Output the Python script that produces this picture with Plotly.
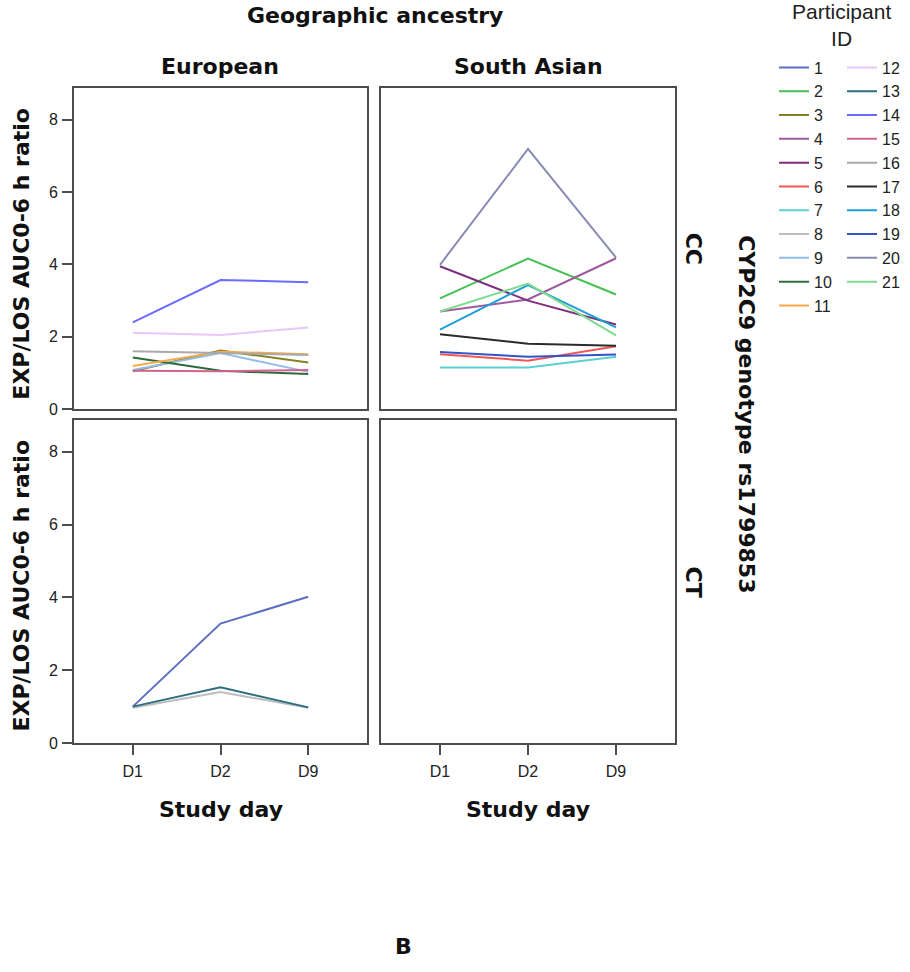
import plotly.graph_objects as go

W, H = 910, 972

days = ["D1", "D2", "D9"]
participants = [str(i) for i in range(1, 22)]

# panel assignment: (ancestry, genotype)
panel_of = {
    "1": ("European", "CT"), "8": ("European", "CT"), "13": ("European", "CT"),
    "3": ("European", "CC"), "9": ("European", "CC"), "10": ("European", "CC"),
    "11": ("European", "CC"), "12": ("European", "CC"), "14": ("European", "CC"),
    "15": ("European", "CC"), "16": ("European", "CC"),
    "2": ("South Asian", "CC"), "4": ("South Asian", "CC"), "5": ("South Asian", "CC"),
    "6": ("South Asian", "CC"), "7": ("South Asian", "CC"), "17": ("South Asian", "CC"),
    "18": ("South Asian", "CC"), "19": ("South Asian", "CC"), "20": ("South Asian", "CC"),
    "21": ("South Asian", "CC"),
}

ratios = {
    "1": [1.00, 3.28, 4.02],
    "2": [3.06, 4.16, 3.17],
    "3": [1.05, 1.62, 1.29],
    "4": [2.70, 3.03, 4.17],
    "5": [3.95, 3.00, 2.34],
    "6": [1.52, 1.34, 1.74],
    "7": [1.15, 1.15, 1.45],
    "8": [0.97, 1.40, 0.97],
    "9": [1.08, 1.55, 1.03],
    "10": [1.43, 1.06, 0.97],
    "11": [1.19, 1.59, 1.52],
    "12": [2.11, 2.05, 2.26],
    "13": [1.00, 1.53, 0.98],
    "14": [2.40, 3.57, 3.51],
    "15": [1.06, 1.05, 1.08],
    "16": [1.60, 1.55, 1.50],
    "17": [2.07, 1.81, 1.75],
    "18": [2.20, 3.43, 2.26],
    "19": [1.58, 1.45, 1.51],
    "20": [3.99, 7.19, 4.19],
    "21": [2.70, 3.47, 2.04],
}

colors = {
    "1": "#5b6fc2", "2": "#45c153", "3": "#838326", "4": "#9e5a9e", "5": "#7d2f7d",
    "6": "#f25757", "7": "#5bd0d0", "8": "#bdbdbd", "9": "#91bde6", "10": "#2e6b3a",
    "11": "#f8a94a", "12": "#e6c8f8", "13": "#2e6e7e", "14": "#6b6bff", "15": "#d0638f",
    "16": "#a9a9a9", "17": "#2b2b2b", "18": "#1f9fd8", "19": "#3553c8", "20": "#8a8ab4",
    "21": "#7fdc8f",
}

ancestries = ["European", "South Asian"]
genotypes = ["CC", "CT"]
yticks = [0, 2, 4, 6, 8]

axis_ids = {("European", "CC"): ("x", "y"), ("South Asian", "CC"): ("x2", "y2"),
            ("European", "CT"): ("x3", "y3"), ("South Asian", "CT"): ("x4", "y4")}

fig = go.Figure()
for p in participants:
    xa, ya = axis_ids[panel_of[p]]
    fig.add_trace(go.Scatter(
        x=days, y=ratios[p], mode="lines", name=p,
        line=dict(color=colors[p], width=2),
        xaxis=xa, yaxis=ya,
        legend="legend" if int(p) <= 11 else "legend2",
        showlegend=True,
    ))

# empty placeholder so every panel (incl. the empty South Asian / CT one) is drawn
for key, (xa, ya) in axis_ids.items():
    fig.add_trace(go.Scatter(x=[], y=[], mode="lines", xaxis=xa, yaxis=ya,
                             showlegend=False, hoverinfo="skip"))

def px_x(v):
    return v / W

def px_y(v):
    return 1 - v / H

xdom = {"European": [px_x(74), px_x(367)], "South Asian": [px_x(381), px_x(675)]}
ydom = {"CC": [px_y(413), px_y(89)], "CT": [px_y(750), px_y(424)]}

LINE = "#4d4d4d"
TICKFONT = dict(family="Liberation Sans, Arial, sans-serif", size=16, color="#222")

layout_axes = {}
for (anc, gen), (xa, ya) in axis_ids.items():
    xkey = "xaxis" + xa[1:]
    ykey = "yaxis" + ya[1:]
    bottom = gen == "CT"
    left = anc == "European"
    layout_axes[xkey] = dict(
        domain=xdom[anc], anchor=ya, type="category",
        categoryorder="array", categoryarray=days,
        range=[-0.67, 2.67], showline=True, linecolor=LINE, linewidth=2, mirror=True,
        showgrid=False, zeroline=False,
        ticks="outside" if bottom else "", ticklen=10, tickwidth=1.5, tickcolor=LINE,
        showticklabels=bottom, tickfont=TICKFONT, fixedrange=True, ticklabelstandoff=3,
    )
    layout_axes[ykey] = dict(
        domain=ydom[gen], anchor=xa, range=[0, 8.87],
        tickvals=yticks, showline=True, linecolor=LINE, linewidth=2, mirror=True,
        showgrid=False, zeroline=False,
        ticks="outside" if left else "", ticklen=10, tickwidth=1.5, tickcolor=LINE,
        showticklabels=left, tickfont=TICKFONT, fixedrange=True, ticklabelstandoff=1,
    )

BOLD = dict(family="DejaVu Sans, Verdana, sans-serif", size=22, color="#111", weight="bold")
REG = dict(family="Liberation Sans, Arial, sans-serif", size=21, color="#222")

annotations = [
    dict(text="Geographic ancestry", x=px_x(375), y=px_y(16), font=BOLD),
    dict(text="European", x=px_x(220), y=px_y(67), font=BOLD),
    dict(text="South Asian", x=px_x(528), y=px_y(67), font=BOLD),
    dict(text="CC", x=px_x(693), y=px_y(251), font=BOLD, textangle=90),
    dict(text="CT", x=px_x(693), y=px_y(587), font=BOLD, textangle=90),
    dict(text="CYP2C9 genotype rs1799853", x=px_x(747), y=px_y(418), font=BOLD, textangle=90),
    dict(text="EXP/LOS AUC0-6 h ratio", x=px_x(22), y=px_y(256), font=BOLD, textangle=-90),
    dict(text="EXP/LOS AUC0-6 h ratio", x=px_x(22), y=px_y(591), font=BOLD, textangle=-90),
    dict(text="Study day", x=px_x(221), y=px_y(817), font=BOLD),
    dict(text="Study day", x=px_x(528), y=px_y(817), font=BOLD),
    dict(text="B", x=px_x(403), y=px_y(955), font=BOLD),
    dict(text="Participant<br>ID", x=px_x(841), y=px_y(25), font=REG),
]
for a in annotations:
    a.update(xref="paper", yref="paper", showarrow=False, xanchor="center", yanchor="middle")

LEGFONT = dict(family="Liberation Sans, Arial, sans-serif", size=16, color="#222")
fig.update_layout(
    width=W, height=H,
    margin=dict(l=0, r=0, t=0, b=0),
    paper_bgcolor="white", plot_bgcolor="white",
    annotations=annotations,
    legend=dict(x=px_x(774), y=px_y(51), xanchor="left", yanchor="top",
                font=LEGFONT, bgcolor="rgba(0,0,0,0)", itemclick=False, itemdoubleclick=False),
    legend2=dict(x=px_x(842), y=px_y(51), xanchor="left", yanchor="top",
                 font=LEGFONT, bgcolor="rgba(0,0,0,0)", itemclick=False, itemdoubleclick=False),
    **layout_axes,
)

fig.write_html("out.html")
